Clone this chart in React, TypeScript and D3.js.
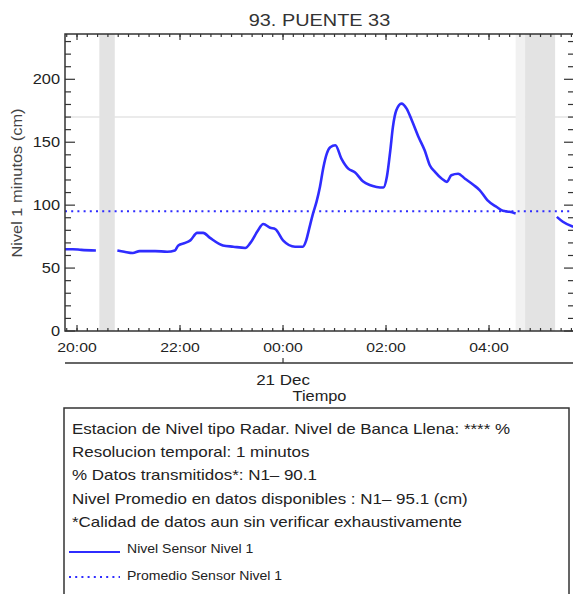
import * as d3 from 'd3';
import { useRef, useEffect } from 'react';

// water level readings, minutes resolution (sampled from the plot)
const times: string[] = [
	"19:46", "19:55", "20:05", "20:22", "20:24", "20:47", "20:55", "21:05", "21:13", "21:31",
	"21:45", "21:54", "21:58", "22:06", "22:12", "22:20", "22:27", "22:35", "22:50", "23:02",
	"23:16", "23:22", "23:30", "23:37", "23:45", "23:51", "00:00", "00:14", "00:23", "00:27",
	"00:30", "00:35", "00:39", "00:43", "00:47", "00:51", "00:55", "01:01", "01:08", "01:16",
	"01:24", "01:33", "01:41", "01:49", "01:57", "02:01", "02:05", "02:08", "02:12", "02:18",
	"02:24", "02:30", "02:38", "02:45", "02:51", "02:57", "03:05", "03:11", "03:16", "03:24",
	"03:32", "03:42", "03:49", "03:58", "04:09", "04:16", "04:24", "04:31", "04:32", "05:19",
	"05:26", "05:38"
];
const nivel: (number | null)[] = [
	65, 65, 64.5, 64, null, 64, 63, 62, 63.5, 63.5,
	63, 64, 68, 70, 72, 78, 78, 74, 68, 67,
	66, 70, 79, 85, 82, 81, 72, 67, 67, 72,
	80, 93.4, 102.6, 114.5, 130, 141, 146, 147.6, 137, 129,
	126, 119, 116, 114.5, 114, 122.5, 143.6, 162, 175.4, 180.7,
	176.7, 167.5, 154, 143.6, 131.7, 126.4, 121, 118.5, 123.8, 125,
	121, 116, 112, 104, 98.5, 95.5, 94.7, 93.4, null, 90.7,
	86.8, 82.8
];
const promedio = 95.1;
const bancaLlena = 170;

// missing-data windows: [start, end, shade]
const gaps: [string, string, string][] = [
	["20:26", "20:44", "#e3e3e3"],
	["04:31", "04:42", "#f1f1f1"],
	["04:42", "05:17", "#e3e3e3"],
];

const xStart = "19:46";
const xEnd = "05:39";
const yMax = 236;

const titulo = "93. PUENTE 33";
const yLabel = "Nivel 1 minutos (cm)";
const dayLabel = "21 Dec";
const xLabel = "Tiempo";
const infoLines: string[] = [
	"Estacion de Nivel tipo Radar. Nivel de Banca Llena: **** %",
	"Resolucion temporal: 1 minutos",
	"% Datos transmitidos*: N1\u2013 90.1",
	"Nivel Promedio en datos disponibles : N1\u2013 95.1 (cm)",
	"*Calidad de datos aun sin verificar exhaustivamente",
];
const legendNames: string[] = ["Nivel Sensor Nivel 1", "Promedio Sensor Nivel 1"];

const toDate = (hm: string) => {
	const [h, m] = hm.split(":").map(Number);
	return h >= 12 ? new Date(2023, 11, 20, h, m) : new Date(2023, 11, 21, h, m);
};

const BLUE = "#2f2cff";
const FONT = "'Liberation Sans', Arial, Helvetica, sans-serif";

const App = () => {
	const ref: any = useRef();
	const W = 573, H = 594;
	const margin = { top: 34, right: 574, bottom: 331, left: 65 }; // box edges

	useEffect(() => {
		document.body.style.margin = "0";
		draw();
	}, []);

	const draw = () => {
		const svg = d3.select(ref.current);
		svg.selectAll("*").remove();

		const x = d3.scaleTime()
			.domain([toDate(xStart), toDate(xEnd)])
			.range([margin.left, margin.right]);
		const y = d3.scaleLinear()
			.domain([0, yMax])
			.range([margin.bottom, margin.top]);

		const text = (s: string, tx: number, ty: number, size: number, anchor = "start", fill = "#222", extra = "") =>
			svg.append("text")
				.attr("transform", `translate(${tx},${ty}) ${extra} scale(1.17,1)`)
				.attr("text-anchor", anchor)
				.attr("font-family", FONT)
				.attr("font-size", size)
				.attr("fill", fill)
				.text(s);

		// bank-full reference line
		svg.append("line")
			.attr("x1", margin.left).attr("x2", margin.right)
			.attr("y1", y(bancaLlena)).attr("y2", y(bancaLlena))
			.attr("stroke", "#e4e4e4").attr("stroke-width", 1.5);

		// gray bands over missing data
		gaps.forEach(g => {
			svg.append("rect")
				.attr("x", x(toDate(g[0])))
				.attr("y", margin.top)
				.attr("width", x(toDate(g[1])) - x(toDate(g[0])))
				.attr("height", margin.bottom - margin.top)
				.attr("fill", g[2]);
		});

		// mean line
		svg.append("line")
			.attr("x1", margin.left).attr("x2", margin.right)
			.attr("y1", y(promedio)).attr("y2", y(promedio))
			.attr("stroke", BLUE).attr("stroke-width", 2)
			.attr("stroke-dasharray", "2,4.2");

		// level series
		const data = times.map((t, i) => ({ t: toDate(t), v: nivel[i] }));
		const line = d3.line<{ t: Date, v: number | null }>()
			.defined(d => d.v != null)
			.x(d => x(d.t))
			.y(d => y(d.v as number))
			.curve(d3.curveMonotoneX);
		svg.append("path")
			.datum(data)
			.attr("d", line)
			.attr("fill", "none")
			.attr("stroke", BLUE)
			.attr("stroke-width", 2.6)
			.attr("stroke-linejoin", "round");

		// frame
		svg.append("rect")
			.attr("x", margin.left).attr("y", margin.top)
			.attr("width", margin.right - margin.left)
			.attr("height", margin.bottom - margin.top)
			.attr("fill", "none").attr("stroke", "#333").attr("stroke-width", 1.5);

		const tk = svg.append("g").attr("stroke", "#333").attr("stroke-width", 1.2);

		// x ticks (bottom + top, inward)
		const xMinor = x.ticks(d3.timeMinute.every(12) as any);
		const xMajor = x.ticks(d3.timeHour.every(2) as any);
		xMinor.forEach(d => {
			tk.append("line").attr("x1", x(d)).attr("x2", x(d)).attr("y1", margin.bottom).attr("y2", margin.bottom - 3);
			tk.append("line").attr("x1", x(d)).attr("x2", x(d)).attr("y1", margin.top).attr("y2", margin.top + 3);
		});
		xMajor.forEach(d => {
			tk.append("line").attr("x1", x(d)).attr("x2", x(d)).attr("y1", margin.bottom).attr("y2", margin.bottom - 6);
			tk.append("line").attr("x1", x(d)).attr("x2", x(d)).attr("y1", margin.top).attr("y2", margin.top + 6);
			text(d3.timeFormat("%H:%M")(d), x(d), 352, 13.5, "middle");
		});

		// y ticks (left + right, inward)
		d3.range(0, yMax, 10).forEach(v => {
			const len = v % 50 === 0 ? 10 : 6;
			tk.append("line").attr("x1", margin.left).attr("x2", margin.left + len).attr("y1", y(v)).attr("y2", y(v));
			tk.append("line").attr("x1", margin.right).attr("x2", margin.right - len).attr("y1", y(v)).attr("y2", y(v));
			if (v % 50 === 0) text(String(v), 60, y(v) + 5, 14, "end");
		});

		// date axis
		const dayX = x(toDate("00:00"));
		svg.append("line").attr("x1", margin.left).attr("x2", margin.right).attr("y1", 363).attr("y2", 363)
			.attr("stroke", "#333").attr("stroke-width", 1.5);
		svg.append("line").attr("x1", dayX).attr("x2", dayX).attr("y1", 363).attr("y2", 358)
			.attr("stroke", "#333").attr("stroke-width", 1.2);
		text(dayLabel, dayX, 385, 14.5, "middle");
		text(xLabel, (margin.left + margin.right) / 2, 401, 14, "middle");

		// title & y label
		text(titulo, (margin.left + margin.right) / 2, 25.5, 17, "middle", "#333");
		text(yLabel, 21.5, 183, 14, "middle", "#444", "rotate(-90)");

		// info box
		svg.append("rect")
			.attr("x", 64).attr("y", 408).attr("width", 505).attr("height", 200)
			.attr("fill", "none").attr("stroke", "#333").attr("stroke-width", 1.5);
		infoLines.forEach((s, i) => text(s, 72, 434 + i * 23.2, 14.5));

		svg.append("line").attr("x1", 69).attr("x2", 120).attr("y1", 552).attr("y2", 552)
			.attr("stroke", BLUE).attr("stroke-width", 2);
		svg.append("line").attr("x1", 69).attr("x2", 120).attr("y1", 577).attr("y2", 577)
			.attr("stroke", BLUE).attr("stroke-width", 2).attr("stroke-dasharray", "2,4.2");
		text(legendNames[0], 127, 553, 12);
		text(legendNames[1], 127, 580, 12);
	};

	return (
		<div className="chart">
			<svg ref={ref} width={W} height={H} style={{ display: "block" }}>
			</svg>
		</div>
	);
};

export default App;
